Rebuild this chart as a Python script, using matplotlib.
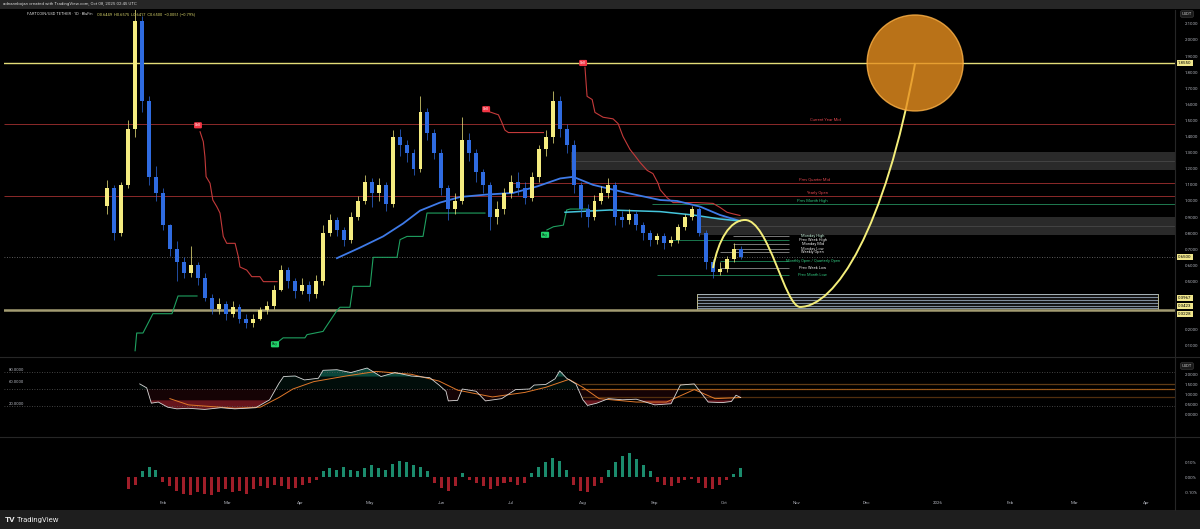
import numpy as np
import matplotlib.pyplot as plt
import matplotlib.transforms as mtransforms
from matplotlib.patches import Ellipse, Rectangle, PathPatch
from matplotlib.path import Path
from datetime import date

plt.rcParams['font.family'] = ['Roboto', 'DejaVu Sans']

W, H = 1200, 529
XLO, XHI = -37.5, 467.2      # days since 2025-01-01
BASE = date(2025, 1, 1)

# ---------------- data ----------------
# candles, one every 3 days starting Jan 8
bar_day = list(range(7, 281, 3))
first_open = 0.97
closes = [1.08, 0.80, 1.10, 1.45, 2.12, 1.62, 1.15, 1.05, 0.85, 0.70,
          0.62, 0.55, 0.60, 0.52, 0.40, 0.33, 0.36, 0.30, 0.34, 0.27,
          0.24, 0.27, 0.32, 0.35, 0.45, 0.57, 0.50, 0.44, 0.48, 0.42,
          0.50, 0.80, 0.88, 0.82, 0.76, 0.90, 1.00, 1.12, 1.05, 1.10,
          0.98, 1.40, 1.35, 1.30, 1.20, 1.55, 1.42, 1.30, 1.08, 0.95,
          1.00, 1.38, 1.30, 1.18, 1.10, 0.90, 0.95, 1.05, 1.12, 1.08,
          1.02, 1.15, 1.32, 1.40, 1.62, 1.45, 1.35, 1.10, 0.95, 0.90,
          1.00, 1.05, 1.10, 0.90, 0.88, 0.92, 0.85, 0.80, 0.76, 0.78,
          0.74, 0.76, 0.84, 0.90, 0.95, 0.80, 0.62, 0.56, 0.58, 0.64,
          0.70, 0.65]
highs = [1.13, 1.10, 1.12, 1.50, 2.20, 2.15, 1.65, 1.22, 1.08, 0.86,
         0.75, 0.65, 0.72, 0.62, 0.55, 0.42, 0.40, 0.38, 0.38, 0.36,
         0.30, 0.30, 0.34, 0.38, 0.48, 0.60, 0.59, 0.52, 0.52, 0.50,
         0.54, 0.85, 0.92, 0.90, 0.84, 0.93, 1.03, 1.16, 1.14, 1.14,
         1.12, 1.44, 1.45, 1.38, 1.32, 1.65, 1.58, 1.45, 1.32, 1.10,
         1.05, 1.52, 1.42, 1.32, 1.20, 1.12, 1.00, 1.08, 1.16, 1.18,
         1.12, 1.18, 1.35, 1.44, 1.68, 1.65, 1.48, 1.38, 1.12, 0.98,
         1.04, 1.09, 1.14, 1.12, 0.94, 0.95, 0.94, 0.87, 0.82, 0.80,
         0.80, 0.78, 0.86, 0.92, 0.97, 0.96, 0.82, 0.64, 0.62, 0.66,
         0.74, 0.72]
lows = [0.92, 0.76, 0.78, 1.08, 1.40, 1.55, 1.10, 1.00, 0.82, 0.66,
        0.50, 0.52, 0.53, 0.48, 0.38, 0.30, 0.30, 0.26, 0.28, 0.24,
        0.21, 0.22, 0.26, 0.30, 0.33, 0.44, 0.46, 0.40, 0.42, 0.38,
        0.40, 0.48, 0.78, 0.78, 0.72, 0.74, 0.88, 0.98, 0.96, 1.00,
        0.94, 0.96, 1.28, 1.24, 1.16, 1.18, 1.38, 1.26, 1.04, 0.88,
        0.92, 0.98, 1.25, 1.12, 1.05, 0.82, 0.86, 0.92, 1.02, 1.04,
        0.98, 1.00, 1.12, 1.28, 1.36, 1.40, 1.30, 1.05, 0.90, 0.84,
        0.88, 0.98, 1.02, 0.85, 0.84, 0.86, 0.82, 0.76, 0.72, 0.73,
        0.70, 0.72, 0.74, 0.82, 0.88, 0.78, 0.58, 0.52, 0.54, 0.56,
        0.62, 0.64]

# trailing stop (green = long, red = short)
green1_day = [19, 19.7, 22.4, 26.7, 34.9, 37.5, 45.7]
green1_val = [0.07, 0.18, 0.18, 0.30, 0.30, 0.41, 0.41]
red1_day = [47, 48.4, 49.1, 49.6, 51.3, 52.5, 54.2, 55.6, 57.0, 58.5,
            62.1, 63.5, 64.2, 67.1, 69.3, 72.8, 74.3, 80.2]
red1_val = [1.43, 1.368, 1.275, 1.151, 1.11, 1.006, 0.965, 0.925, 0.78, 0.737,
            0.737, 0.654, 0.59, 0.571, 0.53, 0.53, 0.499, 0.499]
green2_day = [80.2, 82.8, 92.2, 93.1, 100.0, 100.9, 106.0, 107.3, 111.6,
              112.9, 120.3, 121.6, 131.9, 133.2, 136.2, 143.1, 144.8, 169.8]
green2_val = [0.12, 0.15, 0.15, 0.17, 0.19, 0.21, 0.32, 0.34, 0.34,
              0.47, 0.47, 0.65, 0.65, 0.76, 0.78, 0.78, 0.925, 0.925]
red2_day = [171.5, 175.6, 177.0, 178.4, 179.9, 195.0]
red2_val = [1.555, 1.535, 1.49, 1.44, 1.425, 1.425]
green3_day = [196.5, 199.3, 203.6, 205.0, 206.5, 214.2]
green3_val = [0.82, 0.84, 0.85, 0.944, 0.95, 0.95]
red3_day = [212.9, 213.8, 216.0, 217.2, 220.7, 225.0, 227.2, 229.3, 232.3,
            234.5, 236.6, 239.7, 242.2, 244.4, 245.3, 248.3, 250.9, 261.2,
            268.1, 271.1, 274.1, 276.7, 279.7]
red3_val = [1.83, 1.65, 1.63, 1.55, 1.52, 1.51, 1.48, 1.40, 1.32,
            1.28, 1.24, 1.19, 1.17, 1.11, 1.07, 1.02, 0.99, 0.99,
            0.985, 0.96, 0.93, 0.92, 0.91]
sell_day = [46.1, 170.3, 212.1]
sell_val = [1.47, 1.57, 1.857]
buy_day = [79.3, 195.7]
buy_val = [0.11, 0.79]

# moving averages
ma_blue_day = [106.0, 115.9, 125.9, 134.5, 141.8, 150.4, 159.1, 170.7, 181.9,
               192.2, 202.2, 207.8, 216.4, 231.0, 245.3, 252.6, 262.5, 271.1, 279.7]
ma_blue_val = [0.645, 0.71, 0.78, 0.86, 0.94, 0.99, 1.025, 1.04, 1.05,
               1.09, 1.14, 1.15, 1.10, 1.05, 1.006, 1.0, 0.965, 0.913, 0.876]
ma_cyan_day = [204.3, 223.7, 245.3, 259.5, 271.1, 279.7]
ma_cyan_val = [0.93, 0.944, 0.934, 0.913, 0.888, 0.876]

# key levels (name, price, colour, first day)
top_levels = [('Current Year Mid', 1.48, '#8c2a2a', XLO),
              ('Prev Quarter Mid', 1.11, '#8c2a2a', 181.0),
              ('Yearly Open', 1.031, '#8c2a2a', XLO),
              ('Prev Month High', 0.981, '#1f7a50', 242.0)]
top_label_day = [316.4, 312.0, 313.0, 311.0]
top_label_col = ['#d9434a', '#d9434a', '#d9434a', '#2fbf7a']
oct_levels = [('Monday High', 0.783, '#8c8c8c', 276.7, '#bfe8d2'),
              ('Prev Week High', 0.758, '#1f8a5a', 249.6, '#e6e6e6'),
              ('Monday Mid', 0.733, '#8c8c8c', 276.7, '#e6e6e6'),
              ('Monday Low', 0.70, '#8c8c8c', 276.7, '#cfcfcf'),
              ('Weekly Open', 0.683, '#8c8c8c', 271.0, '#e6e6e6'),
              ('Monthly Open / Quarterly Open', 0.627, '#1f8a5a', 271.0, '#2fbf7a'),
              ('Prev Week Low', 0.584, '#8c8c8c', 271.0, '#e6e6e6'),
              ('Prev Month Low', 0.54, '#1f8a5a', 244.0, '#2fbf7a')]
target_level = 1.855
last_close = 0.65
support_level = 0.3228
zone_hi = [(207.0, 1.193, 1.304, 1.25), (262.5, 0.79, 0.90, 0.845)]
box_day = (261.0, 460.0)
box_levels = [0.422, 0.404, 0.385, 0.366, 0.348, 0.335, 0.323]
axis_marks = [(1.855, '1.8550', 0), (0.65, '0.6500', 0), (0.3967, '0.3967', 0),
              (0.3423, '0.3423', 0.8), (0.3228, '0.3228', -2.6)]

# projected path (cubic bezier anchors) and target circle
curve_day = [268.1, 270.3, 275.4, 281.9, 292.0, 299.1, 305.6, 320.7, 342.2, 355.2]
curve_val = [0.584, 0.758, 0.882, 0.882, 0.882, 0.342, 0.342, 0.342, 0.820, 1.857]
circle_day, circle_val = 355.2, 1.857

# oscillator
rsi_day = [21, 24, 26, 29, 33, 37, 42, 49, 56, 62, 71, 77, 81, 83, 88, 92, 98, 100,
           106, 112, 119, 125, 131, 138, 146, 150, 153, 154, 158, 160, 166, 170,
           177, 183, 189, 191, 196, 200, 202, 205, 209, 212, 214, 218, 223, 229,
           235, 243, 250, 254, 260, 266, 272, 276, 278, 280]
rsi_val = [59, 52, 25, 27, 18, 15, 16, 14, 17, 15, 17, 31, 60, 72, 73, 66, 69, 83,
           84, 79, 87, 72, 79, 73, 70, 57, 46, 29, 30, 50, 46, 29,
           33, 49, 50, 57, 58, 68, 82, 69, 59, 31, 21, 25, 33, 31,
           32, 22, 24, 57, 59, 27, 26, 28, 39, 35]
sig_day = [34, 42, 62, 73, 81, 87, 96, 110, 123, 138, 150, 158, 173, 187, 196,
           206, 212, 219, 235, 248, 260, 269, 280]
sig_val = [33, 22, 16, 18, 35, 50, 63, 73, 81, 76, 64, 48, 36, 44, 53,
           67, 53, 33, 27, 27, 49, 33, 35]
osc_bands = [(59, '#6a4218'), (50, '#a85e18'), (36, '#5a3410')]

# histogram (%), same 3-day grid as candles
hist_val = [0, 0, 0, -0.08, -0.05, 0.04, 0.07, 0.05, -0.03, -0.06,
            -0.09, -0.11, -0.12, -0.10, -0.11, -0.12, -0.10, -0.08, -0.10, -0.09,
            -0.11, -0.08, -0.06, -0.07, -0.05, -0.06, -0.08, -0.07, -0.05, -0.04,
            -0.02, 0.04, 0.06, 0.05, 0.07, 0.05, 0.04, 0.06, 0.08, 0.06,
            0.05, 0.09, 0.11, 0.10, 0.08, 0.07, 0.04, -0.04, -0.07, -0.09,
            -0.06, 0.03, -0.02, -0.04, -0.06, -0.08, -0.06, -0.04, -0.03, -0.05,
            -0.04, 0.03, 0.07, 0.10, 0.13, 0.11, 0.05, -0.05, -0.09, -0.10,
            -0.06, -0.04, 0.05, 0.10, 0.14, 0.16, 0.12, 0.08, 0.04, -0.03,
            -0.05, -0.06, -0.04, -0.02, -0.01, -0.04, -0.07, -0.08, -0.05, -0.02,
            0.02, 0.06]

month_labels = ['Feb', 'Mar', 'Apr', 'May', 'Jun', 'Jul', 'Aug', 'Sep', 'Oct',
                'Nov', 'Dec', '2026', 'Feb', 'Mar', 'Apr']
month_dates = [date(2025, m, 1) for m in range(2, 13)] + \
              [date(2026, m, 1) for m in range(1, 5)]

price_ticks = [2.1, 2.0, 1.9, 1.8, 1.7, 1.6, 1.5, 1.4, 1.3, 1.2, 1.1, 1.0,
               0.9, 0.8, 0.7, 0.6, 0.5, 0.2, 0.1]

# ---------------- figure ----------------
fig = plt.figure(figsize=(12, 5.29), dpi=100, facecolor='#000000')


def box(x0, y0, x1, y1):
    return [x0 / W, 1 - y1 / H, (x1 - x0) / W, (y1 - y0) / H]


def fxy(x, y):
    return x / W, 1 - y / H


def style(a):
    a.set_facecolor('#000000')
    for s in a.spines.values():
        s.set_visible(False)
    a.set_xlim(XLO, XHI)
    a.set_xticks([])
    a.tick_params(length=0, labelsize=3.2, colors='#b2b5be')


# frame strips
fig.patches.append(Rectangle((0, 1 - 9 / H), 1, 9 / H, transform=fig.transFigure,
                             fc='#262626', ec='none', zorder=0))
fig.patches.append(Rectangle((0, 0), 1, 19 / H, transform=fig.transFigure,
                             fc='#1e1e1e', ec='none', zorder=0))
fig.text(*fxy(3, 4.5), 'adnanebojan created with TradingView.com, Oct 08, 2025 02:45 UTC',
         fontsize=3.2, color='#d0d0d0', va='center')
fig.text(*fxy(5, 520), 'TV', fontsize=6, color='#e8e8e8', fontweight='bold', va='center')
fig.text(*fxy(17, 520), 'TradingView', fontsize=5.5, color='#e8e8e8', va='center')

# ---------------- main price panel ----------------
ax = fig.add_axes(box(4, 10, 1175, 356))
style(ax)
ax.set_ylim(0.0373, 2.186)
ax.yaxis.tick_right()
ax.set_yticks(price_ticks)
ax.set_yticklabels([f'{v:.4f}' for v in price_ticks])
ax.tick_params(axis='y', pad=7)

# grey zones
for d0, lo, hi, mid in zone_hi:
    ax.fill_between([d0, XHI], lo, hi, color='#2a2a2a', lw=0, zorder=1)
    ax.hlines(mid, d0, XHI, color='#474747', lw=0.6, zorder=1)

# support box
ax.add_patch(Rectangle((box_day[0], box_levels[-1]), box_day[1] - box_day[0],
                       box_levels[0] - box_levels[-1], fc='#151515', ec='#d8d49a',
                       lw=0.6, zorder=1))
ax.hlines(box_levels, box_day[0], box_day[1], color='#9fb0c4', lw=0.55, zorder=1)

# horizontal levels
ax.axhline(target_level, color='#e4dc78', lw=1.0, zorder=2)
ax.axhline(last_close, color='#7a7a7a', lw=0.6, ls=(0, (1, 2)), zorder=2)
ax.axhline(support_level, color='#a39c72', lw=1.8, zorder=2)
for (name, p, c, d0), ld, lc in zip(top_levels, top_label_day, top_label_col):
    ax.hlines(p, d0, XHI, color=c, lw=0.7, zorder=2)
    ax.text(ld, p + 0.008, name, color=lc, fontsize=3.0, ha='center', va='bottom', zorder=6)
for name, p, c, d0, tc in oct_levels:
    ax.hlines(p, d0, 301, color=c, lw=0.6, zorder=2)
    ax.text(311, p, name, color=tc, fontsize=2.9, ha='center', va='center', zorder=6)

# trailing stops
for dd, vv in [(green1_day, green1_val), (green2_day, green2_val), (green3_day, green3_val)]:
    ax.plot(dd, vv, color='#1fa060', lw=0.8, zorder=3)
for dd, vv in [(red1_day, red1_val), (red2_day, red2_val), (red3_day, red3_val)]:
    ax.plot(dd, vv, color='#c43a3a', lw=0.8, zorder=3)

# moving averages
ax.plot(ma_blue_day, ma_blue_val, color='#3f7be8', lw=1.3, zorder=4)
ax.plot(ma_cyan_day, ma_cyan_val, color='#45c6dc', lw=1.1, zorder=4)

# candles
opens = [first_open] + closes[:-1]
up = [c >= o for o, c in zip(opens, closes)]
cols = ['#f5ec80' if u else '#2f6be0' for u in up]
ax.vlines(bar_day, lows, highs, colors=cols, lw=0.5, zorder=5)
ax.bar(bar_day, [abs(c - o) for o, c in zip(opens, closes)],
       bottom=[min(o, c) for o, c in zip(opens, closes)],
       width=1.7, color=cols, lw=0, zorder=5)

# signal tags
for d, v in zip(sell_day, sell_val):
    ax.text(d, v, 'Sell', fontsize=2.6, color='white', ha='center', va='center', zorder=7,
            bbox=dict(boxstyle='round,pad=0.3', fc='#f23645', ec='none'))
for d, v in zip(buy_day, buy_val):
    ax.text(d, v, 'Buy', fontsize=2.6, color='#0b3d1e', ha='center', va='center', zorder=7,
            bbox=dict(boxstyle='round,pad=0.3', fc='#22d36b', ec='none'))

# projection + target
codes = [Path.MOVETO] + [Path.CURVE4] * 9
ax.add_patch(PathPatch(Path(np.column_stack([curve_day, curve_val]), codes),
                       fc='none', ec='#f4ee7a', lw=1.4, zorder=6))
ax.add_patch(Ellipse((circle_day, circle_val), 41.4, 0.596, fc='#e8901f', alpha=0.8,
                     ec='#ffb347', lw=1.0, zorder=6))

# price-axis marks
trans = mtransforms.blended_transform_factory(ax.transAxes, ax.transData)
for p, lab, off in axis_marks:
    ax.annotate(lab, (1.0, p), xycoords=trans, xytext=(2.2, off), textcoords='offset points',
                fontsize=3.2, color='#000000', va='center', ha='left', annotation_clip=False,
                bbox=dict(boxstyle='square,pad=0.25', fc='#f0e68c', ec='none'))

ax.text(0.0195, 0.988, 'FARTCOIN/USD TETHER · 1D · BluFin', transform=ax.transAxes,
        fontsize=2.9, color='#d8d8d8', va='center')
ax.text(0.0790, 0.988, 'O0.6449  H0.6575  L0.6417  C0.6500  −0.0051 (−0.79%)',
        transform=ax.transAxes, fontsize=2.9, color='#d7d36a', va='center')

# ---------------- oscillator ----------------
osc = fig.add_axes(box(4, 358, 1175, 436))
style(osc)
osc.set_ylim(-32.9, 104.7)
osc.set_yticks([])
for lv in (80, 50, 20):
    osc.axhline(lv, color='#5a5a5a', lw=0.6, ls=(0, (1, 2)))
for lv, c in osc_bands:
    osc.hlines(lv, 211, XHI, color=c, lw=0.9, alpha=0.9)
rd = np.array(rsi_day, dtype=float)
rv = np.array(rsi_val, dtype=float)
osc.fill_between(rd, rv, 50, where=rv < 50, interpolate=True, color='#b3202f', alpha=0.12, lw=0)
osc.fill_between(rd, rv, 30, where=rv < 30, interpolate=True, color='#e0303f', alpha=0.4, lw=0)
osc.fill_between(rd, rv, 50, where=rv > 50, interpolate=True, color='#12806a', alpha=0.1, lw=0)
osc.fill_between(rd, rv, 72, where=rv > 72, interpolate=True, color='#1aa086', alpha=0.4, lw=0)
osc.plot(sig_day, sig_val, color='#e0782a', lw=0.7)
osc.plot(rsi_day, rsi_val, color='#d8d8d8', lw=0.6)
otrans = mtransforms.blended_transform_factory(osc.transAxes, osc.transData)
for lv in (80, 60, 20):
    osc.text(0.004, lv + 3, f'{lv:.4f}', transform=otrans, fontsize=3.0,
             color='#b2b5be', va='center')
osc2 = osc.twinx()
for s in osc2.spines.values():
    s.set_visible(False)
osc2.set_ylim(-1.1, 2.8)
osc2.set_yticks([0, 0.5, 1.0, 1.5, 2.0])
osc2.set_yticklabels(['0.0000', '0.5000', '1.0000', '1.5000', '2.0000'])
osc2.tick_params(length=0, labelsize=3.2, colors='#b2b5be', pad=7)

# ---------------- histogram ----------------
hist = fig.add_axes(box(4, 438, 1175, 497))
style(hist)
hist.set_ylim(-0.133, 0.26)
hcol = ['#1f9c7a' if v > 0 else '#b3222e' for v in hist_val]
hist.bar(bar_day, hist_val, width=1.3, color=hcol, lw=0, alpha=0.9)
hist.yaxis.tick_right()
hist.set_yticks([0.1, 0.0, -0.1])
hist.set_yticklabels(['0.10%', '0.00%', '-0.10%'])
hist.tick_params(axis='y', pad=7)
hist.set_xticks([(d - BASE).days for d in month_dates])
hist.set_xticklabels(month_labels)
hist.tick_params(axis='x', length=0, pad=3, labelsize=3.2, colors='#b2b5be')

# separators and unit boxes
for y in (357, 437):
    fig.add_artist(plt.Line2D([0, 1], [1 - y / H] * 2, color='#262626', lw=0.8))
fig.add_artist(plt.Line2D([1175 / W] * 2, [19 / H, 1 - 10 / H], color='#262626', lw=0.8))
for y in (14, 366):
    fig.text(*fxy(1187, y), 'USDT', fontsize=3.0, color='#c8c8c8', ha='center', va='center',
             bbox=dict(boxstyle='round,pad=0.3', fc='#1a1a1a', ec='#444444', lw=0.4))

fig.savefig('out.png', dpi=100, facecolor=fig.get_facecolor())
